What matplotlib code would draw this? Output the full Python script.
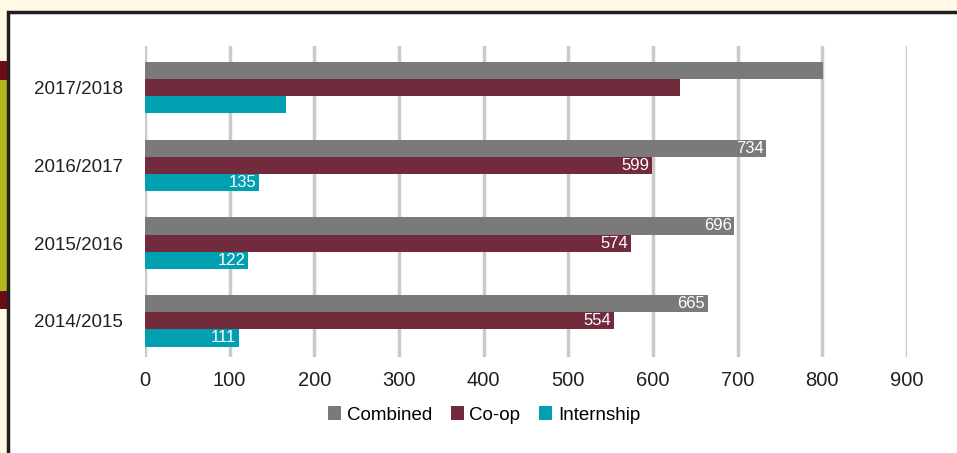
# Co-op and internship placements by academic year
import numpy as np
import matplotlib.pyplot as plt
from matplotlib.patches import Rectangle

plt.rcParams['font.family'] = ['Liberation Sans', 'DejaVu Sans']

# data
years = ['2014/2015', '2015/2016', '2016/2017', '2017/2018']
combined = [665, 696, 734, 801]
coop = [554, 574, 599, 632]
internship = [111, 122, 135, 167]
show_labels = [True, True, True, False]
xticks = np.arange(0, 1000, 100)

c_comb = '#7a7a7b'
c_coop = '#722b3d'
c_int = '#00a0b0'

fig = plt.figure(figsize=(9.57, 4.53), dpi=100)
fig.patch.set_facecolor('#fff9e6')

W, H = 957., 453.
def rect(x0, y0, x1, y1, **kw):
    # pixel box (top-left origin) -> figure coords
    fig.add_artist(Rectangle((x0/W, 1-y1/H), (x1-x0)/W, (y1-y0)/H,
                             transform=fig.transFigure, zorder=-5, **kw))

# page frame decorations
rect(0, 61, 7, 80, facecolor='#6b0d12', edgecolor='none')
rect(0, 80, 7, 291, facecolor='#b0b81e', edgecolor='none')
rect(0, 291, 7, 309, facecolor='#6b0d12', edgecolor='none')
rect(8, 12, 960, 460, facecolor='white', edgecolor='#231f20', linewidth=2.5)

ax = fig.add_axes([145/W, 1-357/H, (907-145)/W, (357-46)/H])
ax.set_facecolor('none')

y = np.arange(len(years))
h = 0.22
b1 = ax.barh(y+h, combined, h, color=c_comb, label='Combined', zorder=3)
b2 = ax.barh(y, coop, h, color=c_coop, label='Co-op', zorder=3)
b3 = ax.barh(y-h, internship, h, color=c_int, label='Internship', zorder=3)

# value labels inside bar ends
for off, vals in [(h, combined), (0, coop), (-h, internship)]:
    for i, v in enumerate(vals):
        if show_labels[i]:
            ax.annotate(str(v), (v, y[i]+off), xytext=(-2, 0),
                        textcoords='offset points', ha='right', va='center',
                        color='white', fontsize=12, zorder=4)

ax.set_xlim(0, 900)
ax.set_ylim(-0.465, 3.535)
ax.set_xticks(xticks)
ax.set_yticks(y)
ax.set_yticklabels(years)
ax.tick_params(axis='x', length=0, pad=10, labelsize=14.5, colors='#231f20')
ax.tick_params(axis='y', length=0, pad=16, labelsize=13.5, colors='#231f20')
ax.grid(axis='x', color='#c9c9ce', linewidth=2.5, zorder=0)
for s in ax.spines.values():
    s.set_visible(False)

fig.legend(handles=[b1, b2, b3], loc='center', bbox_to_anchor=(484/W, 1-415/H),
           ncol=3, frameon=False, fontsize=13.5, handlelength=0.7, handleheight=0.7,
           handletextpad=0.3, columnspacing=1.0)

plt.savefig('out.png', dpi=100, facecolor=fig.get_facecolor())
